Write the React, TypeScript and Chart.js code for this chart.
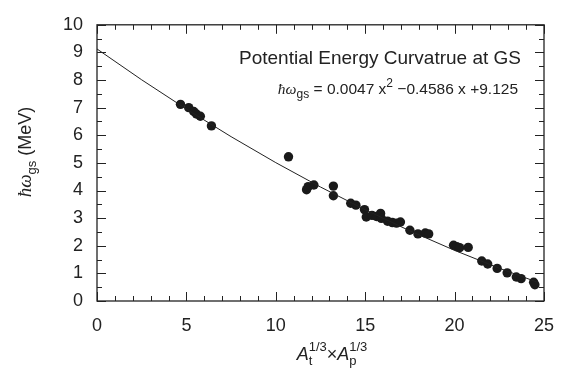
import React, { useEffect, useRef } from "react";
import { Chart, registerables } from "chart.js";

Chart.register(...registerables);

// Measured points (x = At^1/3 * Ap^1/3, y = hbar omega_gs in MeV)
const pointX = [
  4.67, 5.13, 5.41, 5.56, 5.78, 6.4, 10.71, 11.72, 11.81, 12.13, 13.22, 13.22,
  14.19, 14.48, 14.96, 15.06, 15.38, 15.63, 15.86, 15.9, 16.25, 16.52, 16.75,
  16.97, 17.5, 17.95, 18.36, 18.55, 19.94, 20.12, 20.28, 20.76, 21.52, 21.85,
  22.38, 22.94, 23.45, 23.72, 24.42, 24.49,
];
const pointY = [
  7.12, 7.0, 6.86, 6.77, 6.69, 6.34, 5.22, 4.03, 4.14, 4.2, 4.16, 3.81, 3.54,
  3.47, 3.31, 3.04, 3.1, 3.06, 3.17, 2.99, 2.89, 2.84, 2.82, 2.86, 2.56, 2.43,
  2.46, 2.43, 2.02, 1.97, 1.93, 1.94, 1.45, 1.34, 1.18, 1.02, 0.87, 0.81, 0.68,
  0.59,
];

// Fitted curve samples: 0.0047 x^2 - 0.4586 x + 9.125
const fitX = [0, 2.5, 5, 7.5, 10, 12.5, 15, 17.5, 20, 22.5, 24.6];
const fitY = [9.125, 8.008, 6.95, 5.95, 5.009, 4.127, 3.304, 2.539, 1.833, 1.186, 0.688];

const xTickLabels = ["0", "5", "10", "15", "20", "25"];
const yTickLabels = ["0", "1", "2", "3", "4", "5", "6", "7", "8", "9", "10"];

const annotationTitle = "Potential Energy Curvatrue at GS";

const INK = "#222";
const SANS = "'Liberation Sans', Arial, sans-serif";
const SERIF = "'Liberation Serif', 'Times New Roman', serif";

type Run = { text: string; font: string; dy?: number; sub?: string; sup?: string; subDy?: number; supDy?: number };

function runWidth(ctx: CanvasRenderingContext2D, r: Run) {
  ctx.font = r.font;
  if (r.sub !== undefined || r.sup !== undefined) {
    const a = r.sub ? ctx.measureText(r.sub).width : 0;
    const b = r.sup ? ctx.measureText(r.sup).width : 0;
    return Math.max(a, b);
  }
  return ctx.measureText(r.text).width;
}

function drawRuns(ctx: CanvasRenderingContext2D, runs: Run[], x: number, y: number, align: "left" | "center" | "right") {
  const widths = runs.map((r) => runWidth(ctx, r));
  const total = widths.reduce((a, b) => a + b, 0);
  let cx = align === "left" ? x : align === "center" ? x - total / 2 : x - total;
  ctx.textAlign = "left";
  ctx.textBaseline = "alphabetic";
  runs.forEach((r, i) => {
    ctx.font = r.font;
    if (r.sub !== undefined || r.sup !== undefined) {
      if (r.sub) ctx.fillText(r.sub, cx, y + (r.subDy || 0));
      if (r.sup) ctx.fillText(r.sup, cx, y + (r.supDy || 0));
    } else {
      ctx.fillText(r.text, cx, y + (r.dy || 0));
    }
    cx += widths[i];
  });
}

const framePlugin = {
  id: "frameTicks",
  afterDraw(chart: any) {
    const ctx: CanvasRenderingContext2D = chart.ctx;
    const { left, right, top, bottom } = chart.chartArea;
    const xs = chart.scales.x;
    const ys = chart.scales.y;
    ctx.save();
    ctx.strokeStyle = INK;
    ctx.lineWidth = 1.3;
    ctx.strokeRect(left, top, right - left, bottom - top);
    ctx.lineWidth = 1;
    ctx.beginPath();
    for (let v = xs.min; v <= xs.max + 1e-9; v += 1) {
      const px = Math.round(xs.getPixelForValue(v)) + 0.5;
      const len = Math.abs(v % 5) < 1e-9 ? 9 : 5;
      ctx.moveTo(px, bottom);
      ctx.lineTo(px, bottom - len);
      ctx.moveTo(px, top);
      ctx.lineTo(px, top + len);
    }
    for (let v = ys.min; v <= ys.max + 1e-9; v += 0.5) {
      const py = Math.round(ys.getPixelForValue(v)) + 0.5;
      const len = Math.abs(v % 1) < 1e-9 ? 9 : 5;
      ctx.moveTo(left, py);
      ctx.lineTo(left + len, py);
      ctx.moveTo(right, py);
      ctx.lineTo(right - len, py);
    }
    ctx.stroke();

    ctx.fillStyle = INK;
    // annotation
    drawRuns(ctx, [{ text: annotationTitle, font: `19px ${SANS}` }], right - 23, 64, "right");
    drawRuns(
      ctx,
      [
        { text: "ħω", font: `italic 15.5px ${SERIF}` },
        { text: "gs", font: `12px ${SANS}`, dy: 4 },
        { text: " = 0.0047 x", font: `15.5px ${SANS}` },
        { text: "2", font: `12px ${SANS}`, dy: -7 },
        { text: " \u22120.4586 x +9.125", font: `15.5px ${SANS}` },
      ],
      right - 26,
      94,
      "right"
    );

    // x title
    drawRuns(
      ctx,
      [
        { text: "A", font: `italic 18px ${SANS}` },
        { text: "", font: `13px ${SANS}`, sub: "t", sup: "1/3", subDy: 5, supDy: -9 },
        { text: "×", font: `18px ${SANS}` },
        { text: "A", font: `italic 18px ${SANS}` },
        { text: "", font: `13px ${SANS}`, sub: "p", sup: "1/3", subDy: 5, supDy: -9 },
      ],
      332,
      360,
      "center"
    );

    // y title
    ctx.save();
    ctx.translate(31, 152);
    ctx.rotate(-Math.PI / 2);
    drawRuns(
      ctx,
      [
        { text: "ħω", font: `italic 19px ${SERIF}` },
        { text: "gs", font: `13px ${SANS}`, dy: 5 },
        { text: " (MeV)", font: `18px ${SANS}` },
      ],
      0,
      0,
      "center"
    );
    ctx.restore();
    ctx.restore();
  },
};

export default function App() {
  const ref = useRef<HTMLCanvasElement | null>(null);
  useEffect(() => {
    if (!ref.current) return;
    const chart = new Chart(ref.current, {
      type: "scatter",
      data: {
        datasets: [
          {
            type: "line",
            data: fitX.map((x, i) => ({ x, y: fitY[i] })),
            borderColor: INK,
            borderWidth: 1,
            pointRadius: 0,
            fill: false,
            tension: 0,
          } as any,
          {
            data: pointX.map((x, i) => ({ x, y: pointY[i] })),
            backgroundColor: "#1a1a1a",
            borderColor: "#1a1a1a",
            borderWidth: 0,
            pointRadius: 4.7,
          },
        ],
      },
      options: {
        responsive: false,
        animation: false,
        layout: { padding: { left: 0, right: 27, top: 13, bottom: 0 } },
        plugins: { legend: { display: false }, tooltip: { enabled: false } },
        scales: {
          x: {
            type: "linear",
            min: 0,
            max: 25,
            grid: { display: false, drawTicks: false },
            border: { display: false },
            afterFit: (s: any) => {
              s.height = 72;
            },
            ticks: {
              stepSize: 5,
              padding: 14,
              color: INK,
              font: { family: SANS, size: 18 },
              callback: (v: any) => xTickLabels[Math.round(Number(v) / 5)] ?? "",
            },
          },
          y: {
            type: "linear",
            min: 0,
            max: 10,
            grid: { display: false, drawTicks: false },
            border: { display: false },
            afterFit: (s: any) => {
              s.width = 97;
            },
            ticks: {
              stepSize: 1,
              padding: 14,
              color: INK,
              font: { family: SANS, size: 18 },
              callback: (v: any) => yTickLabels[Math.round(Number(v))] ?? "",
            },
          },
        },
      },
      plugins: [framePlugin],
    });
    return () => chart.destroy();
  }, []);
  return (
    <div style={{ position: "absolute", left: 0, top: 0, width: 571, height: 373, background: "#fff" }}>
      <canvas ref={ref} width={571} height={373} />
    </div>
  );
}
